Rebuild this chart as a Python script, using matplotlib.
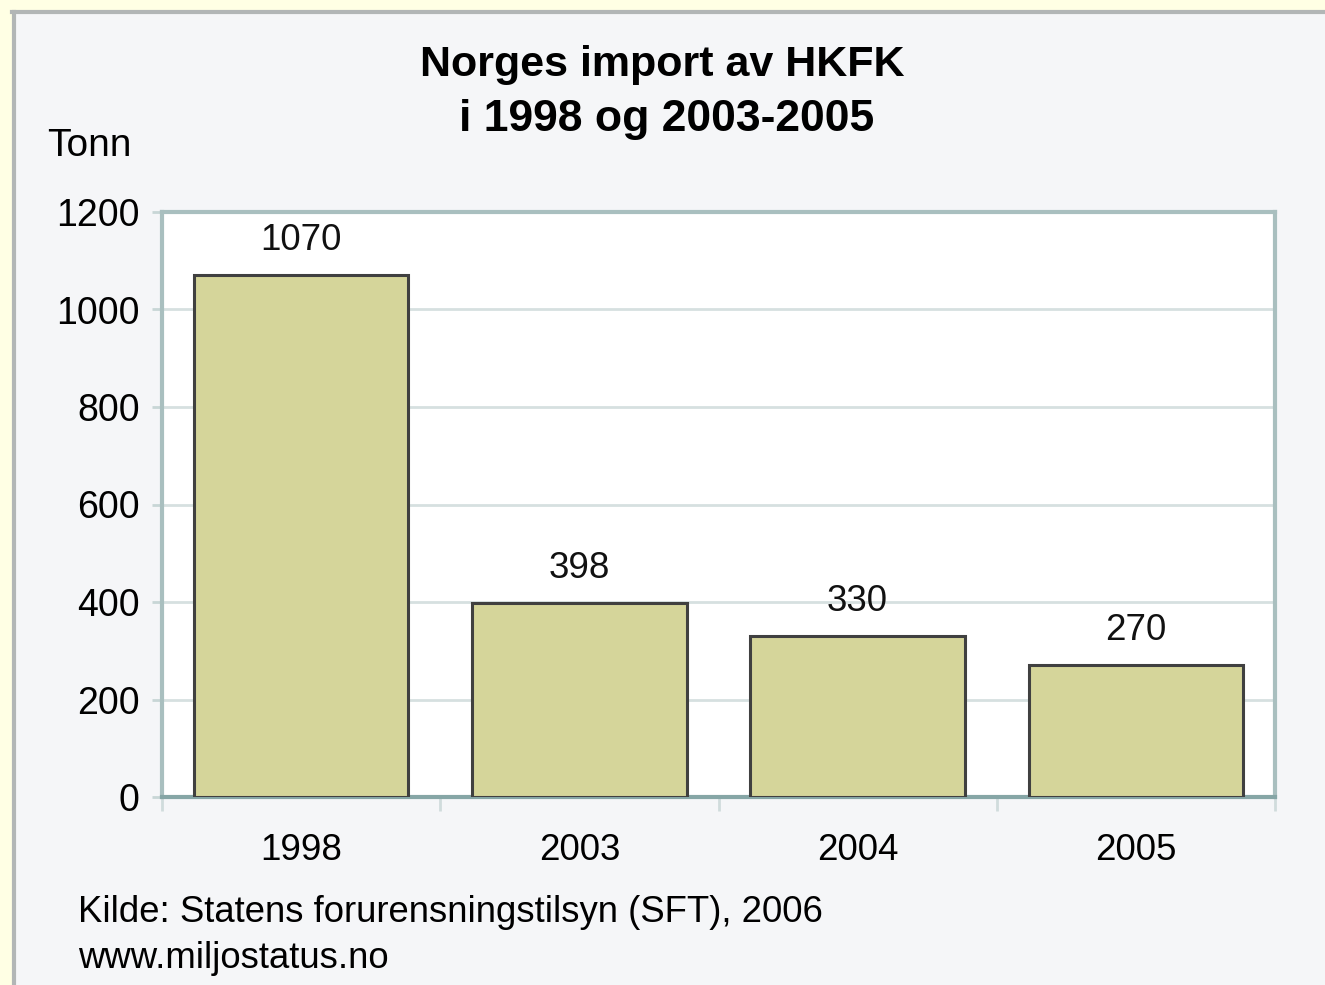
import matplotlib
matplotlib.use("Agg")
import matplotlib.pyplot as plt
from matplotlib.patches import Rectangle
from matplotlib.lines import Line2D
import numpy as np

# data
aar = ['1998', '2003', '2004', '2005']
tonn = [1070, 398, 330, 270]
y_ticks = [0, 200, 400, 600, 800, 1000, 1200]

plt.rcParams['font.family'] = ['Liberation Sans', 'DejaVu Sans']

fig = plt.figure(figsize=(13.25, 9.85), dpi=100)
fig.patch.set_facecolor('#FFFFE4')

# lys grå ramme bak diagrammet
fig.patches.append(Rectangle((12 / 1325, 0), 1 - 12 / 1325, 1 - 10 / 985,
                             transform=fig.transFigure, facecolor='#F5F6F8',
                             edgecolor='none', zorder=-10))
fig.lines.append(Line2D([14 / 1325, 14 / 1325], [0, 1 - 12 / 985],
                        transform=fig.transFigure, color='#B2B6B6', linewidth=3, zorder=-9))
fig.lines.append(Line2D([12 / 1325, 1], [1 - 12 / 985, 1 - 12 / 985],
                        transform=fig.transFigure, color='#B2B6B6', linewidth=3, zorder=-9))

ax = fig.add_axes([162 / 1325, 1 - 797 / 985, (1275 - 162) / 1325, (797 - 212) / 985])
ax.set_facecolor('white')

x = np.arange(len(aar))
bars = ax.bar(x, tonn, width=0.77, color='#D5D59A', edgecolor='#404040',
              linewidth=2.2, zorder=3)

for xi, v in zip(x, tonn):
    ax.text(xi, v + 35, str(v), ha='center', va='bottom', fontsize=26.5, color='#111111')

ax.set_xlim(-0.5, len(aar) - 0.5)
ax.set_ylim(0, 1200)
ax.set_yticks(y_ticks)
ax.set_yticklabels([str(t) for t in y_ticks], fontsize=27)
ax.yaxis.grid(True, color='#D6E0E0', linewidth=2, zorder=0)
ax.set_axisbelow(True)

# x-akse: etiketter midt på, små streker mellom kategoriene
ax.set_xticks(x)
ax.set_xticklabels(aar, fontsize=26.5)
ax.set_xticks(np.arange(-0.5, len(aar)), minor=True)
ax.tick_params(axis='x', which='major', length=0, pad=26)
ax.tick_params(axis='x', which='minor', length=10, width=2, color='#D0DCDC')
ax.tick_params(axis='y', length=7, width=2, color='#C8D6D6', pad=9)

for side in ['top', 'left', 'right']:
    ax.spines[side].set_color('#A9BFBF')
    ax.spines[side].set_linewidth(3)
ax.spines['bottom'].set_color('#86A6A6')
ax.spines['bottom'].set_linewidth(3)

fig.text(662 / 1325, 1 - 65 / 985, 'Norges import av HKFK', ha='center', va='center',
         fontsize=31, fontweight='bold')
fig.text(667 / 1325, 1 - 120 / 985, 'i 1998 og 2003-2005', ha='center', va='center',
         fontsize=32, fontweight='bold')
fig.text(47 / 1325, 1 - 146 / 985, 'Tonn', ha='left', va='center', fontsize=28)

fig.text(78 / 1325, 1 - 912 / 985, 'Kilde: Statens forurensningstilsyn (SFT), 2006',
         ha='left', va='center', fontsize=26.3)
fig.text(78 / 1325, 1 - 958 / 985, 'www.miljostatus.no', ha='left', va='center', fontsize=26.3)

fig.savefig('out.png', dpi=100, facecolor=fig.get_facecolor())
